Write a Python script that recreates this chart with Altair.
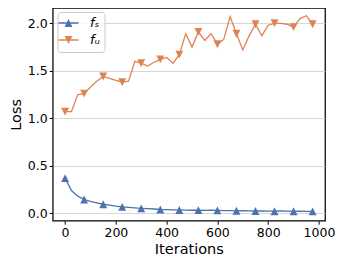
import altair as alt
import pandas as pd

iterations = [0, 25, 50, 75, 100, 125, 150, 175, 200, 225,
              250, 275, 300, 325, 350, 375, 400, 425, 450, 475,
              500, 525, 550, 575, 600, 625, 650, 675, 700, 725,
              750, 775, 800, 825, 850, 875, 900, 925, 950, 975]
fs_loss = [0.37, 0.24, 0.18, 0.145, 0.125, 0.11, 0.095, 0.085, 0.075, 0.068,
           0.062, 0.057, 0.052, 0.048, 0.045, 0.04, 0.038, 0.036, 0.035, 0.034,
           0.032, 0.033, 0.03, 0.032, 0.03, 0.028, 0.027, 0.026, 0.028, 0.025,
           0.024, 0.025, 0.023, 0.022, 0.024, 0.022, 0.021, 0.022, 0.02, 0.02]
fu_loss = [1.07, 1.07, 1.25, 1.26, 1.33, 1.39, 1.44, 1.42, 1.40, 1.38,
           1.39, 1.60, 1.58, 1.55, 1.59, 1.62, 1.64, 1.58, 1.67, 1.89,
           1.75, 1.91, 1.82, 1.89, 1.78, 1.83, 2.07, 1.89, 1.72, 1.87,
           1.99, 1.87, 1.98, 2.00, 2.00, 1.99, 1.96, 2.05, 2.08, 1.99]
series_names = ["fₛ", "fᵤ"]
series_colors = ["#4C72B0", "#DD8452"]
x_ticks = [0, 200, 400, 600, 800, 1000]
y_ticks = [0.0, 0.5, 1.0, 1.5, 2.0]
marker_every = 3

rows = []
for i, it in enumerate(iterations):
    rows.append({"it": it, "loss": fs_loss[i], "series": series_names[0], "marker": i % marker_every == 0})
    rows.append({"it": it, "loss": fu_loss[i], "series": series_names[1], "marker": i % marker_every == 0})
df = pd.DataFrame(rows)

tri_up = "M0,-1L1,1L-1,1Z"
tri_down = "M0,1L-1,-1L1,-1Z"
leg_up = "M-2.55,-0.19H2.55V0.19H-2.55Z M0,-1L1,1L-1,1Z"
leg_down = "M-2.55,-0.19H2.55V0.19H-2.55Z M0,1L-1,-1L1,-1Z"

x_enc = alt.X("it:Q",
              scale=alt.Scale(domain=[-48.75, 1023.75], nice=False, zero=False),
              axis=alt.Axis(values=x_ticks, title="Iterations", grid=False, format="d"))
y_enc = alt.Y("loss:Q",
              scale=alt.Scale(domain=[-0.078, 2.161], nice=False, zero=False),
              axis=alt.Axis(values=y_ticks, title="Loss", grid=True, format=".1f"))


def cscale():
    return alt.Scale(domain=series_names, range=series_colors)


lines = alt.Chart(df).mark_line(strokeWidth=1.3).encode(
    x=x_enc, y=y_enc,
    color=alt.Color("series:N", scale=cscale(), legend=None),
)

points = alt.Chart(df).transform_filter("datum.marker").mark_point(
    filled=True, opacity=1, size=62, strokeWidth=0
).encode(
    x=x_enc, y=y_enc,
    color=alt.Color("series:N", scale=cscale(), legend=None),
    shape=alt.Shape("series:N", scale=alt.Scale(domain=series_names, range=[tri_up, tri_down]), legend=None),
)

legend_cfg = dict(
    title=None, orient="none", legendX=4.8, legendY=4,
    padding=4.5, labelFontStyle="italic", labelFontSize=13,
    labelColor="#000", labelFont="DejaVu Sans", labelOffset=15,
    symbolSize=62, symbolStrokeWidth=0, rowPadding=3,
    fillColor="rgba(255,255,255,0.8)", strokeColor="#cccccc",
    cornerRadius=3,
)

legend_layer = alt.Chart(df).transform_filter("false").mark_point(
    filled=True, opacity=1, strokeWidth=0
).encode(
    x=x_enc, y=y_enc,
    color=alt.Color("series:N", scale=cscale(), legend=alt.Legend(**legend_cfg)),
    shape=alt.Shape("series:N", scale=alt.Scale(domain=series_names, range=[leg_up, leg_down]),
                    legend=alt.Legend(**legend_cfg)),
)

chart = alt.layer(lines, points, legend_layer).resolve_scale(
    color="independent", shape="independent"
).properties(
    width=272.3, height=212.7,
    autosize=alt.AutoSizeParams(type="none"),
    padding={"left": 44.7, "top": 0, "right": 11, "bottom": 40},
).configure_view(
    stroke="black", strokeWidth=1.25
).configure_axis(
    domain=False, tickColor="#000", tickSize=3.5, tickWidth=1,
    labelFont="DejaVu Sans", labelFontSize=12.5, labelColor="#000", labelPadding=2,
    titleFont="DejaVu Sans", titleFontSize=14.5, titleFontWeight="normal", titleColor="#000",
    titlePadding=4, gridColor="#cccccc", gridWidth=0.8,
)

chart.save("out.html", embed_options={"renderer": "svg", "actions": False})
